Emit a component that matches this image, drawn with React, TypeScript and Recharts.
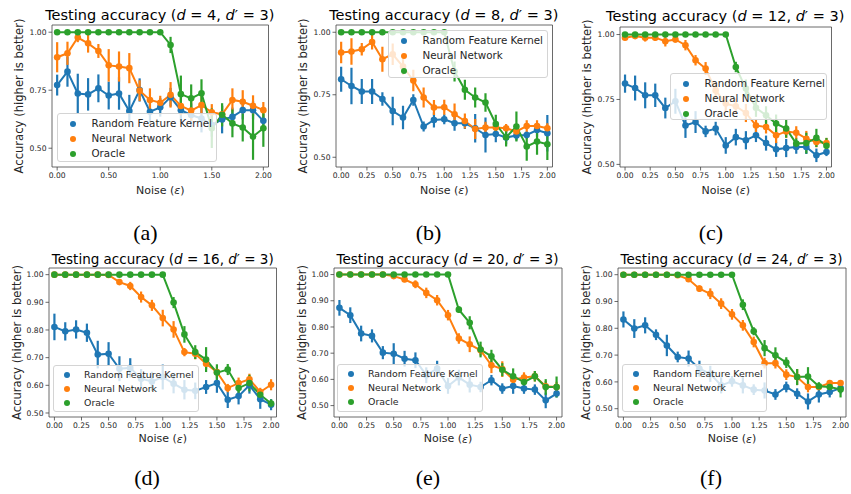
import React from 'react';
import { ComposedChart, Line, XAxis, YAxis, ErrorBar, Legend, Label, ReferenceArea } from 'recharts';

const FONT = "'DejaVu Sans', sans-serif";
const noise = [0, 0.1, 0.2, 0.3, 0.4, 0.5, 0.6, 0.7, 0.8, 0.9, 1.0, 1.1, 1.2, 1.3, 1.4, 1.5, 1.6, 1.7, 1.8, 1.9, 2.0];
const seriesNames = ['Random Feature Kernel', 'Neural Network', 'Oracle'];
const colors = ['#1f77b4', '#ff7f0e', '#2ca02c'];
const xTicksCoarse = [0, 0.5, 1, 1.5, 2];
const xTicksFine = [0, 0.25, 0.5, 0.75, 1, 1.25, 1.5, 1.75, 2];
const yTicksTop = [0.5, 0.75, 1.0];
const yTicksBottom = [0.5, 0.6, 0.7, 0.8, 0.9, 1.0];
const dims = [4, 8, 12, 16, 20, 24];
const captions = ['(a)', '(b)', '(c)', '(d)', '(e)', '(f)'];

// (a) d=4
const rfkA = [0.772, 0.83, 0.736, 0.732, 0.758, 0.727, 0.736, 0.66, 0.751, 0.657, 0.676, 0.72, 0.664, 0.643, 0.628, 0.6, 0.624, 0.635, 0.664, 0.664, 0.618];
const rfkErrA = [0.045, 0.065, 0.085, 0.07, 0.06, 0.06, 0.07, 0.07, 0.05, 0.05, 0.04, 0.04, 0.05, 0.05, 0.06, 0.05, 0.06, 0.04, 0.04, 0.04, 0.03];
const nnA = [0.892, 0.909, 0.977, 0.952, 0.919, 0.857, 0.852, 0.845, 0.748, 0.708, 0.696, 0.73, 0.682, 0.662, 0.686, 0.655, 0.646, 0.708, 0.7, 0.683, 0.664];
const nnErrA = [0.065, 0.05, 0.02, 0.04, 0.03, 0.07, 0.065, 0.065, 0.045, 0.05, 0.03, 0.055, 0.04, 0.045, 0.04, 0.035, 0.035, 0.05, 0.05, 0.045, 0.035];
const orA = [1, 1, 1, 1, 1, 1, 1, 1, 1, 1, 1, 0.945, 0.733, 0.715, 0.737, 0.586, 0.644, 0.607, 0.589, 0.55, 0.586];
const orErrA = [0, 0, 0, 0, 0, 0, 0, 0, 0, 0, 0, 0.035, 0.08, 0.06, 0.06, 0.085, 0.05, 0.06, 0.06, 0.1, 0.08];

// (b) d=8
const rfkB = [0.812, 0.785, 0.763, 0.763, 0.733, 0.685, 0.659, 0.729, 0.623, 0.649, 0.652, 0.636, 0.636, 0.616, 0.589, 0.593, 0.579, 0.587, 0.589, 0.609, 0.596];
const rfkErrB = [0.05, 0.073, 0.05, 0.05, 0.027, 0.057, 0.047, 0.023, 0.02, 0.03, 0.02, 0.03, 0.023, 0.057, 0.07, 0.033, 0.027, 0.02, 0.015, 0.027, 0.073];
const nnB = [0.919, 0.923, 0.932, 0.961, 0.892, 0.912, 0.863, 0.807, 0.739, 0.699, 0.7, 0.672, 0.645, 0.613, 0.619, 0.619, 0.616, 0.603, 0.625, 0.625, 0.616];
const nnErrB = [0.043, 0.053, 0.025, 0.03, 0.05, 0.043, 0.033, 0.043, 0.04, 0.03, 0.03, 0.043, 0.03, 0.04, 0.023, 0.017, 0.017, 0.015, 0.023, 0.023, 0.02];
const orB = [1, 1, 1, 1, 1, 1, 1, 1, 1, 1, 1, 0.843, 0.77, 0.739, 0.719, 0.633, 0.58, 0.623, 0.543, 0.563, 0.552];
const orErrB = [0, 0, 0, 0, 0, 0, 0, 0, 0, 0, 0, 0.04, 0.04, 0.04, 0.037, 0.037, 0.037, 0.06, 0.057, 0.053, 0.063];

// (c) d=12
const rfkC = [0.811, 0.794, 0.766, 0.766, 0.717, 0.743, 0.65, 0.663, 0.627, 0.638, 0.573, 0.605, 0.593, 0.612, 0.582, 0.558, 0.563, 0.567, 0.567, 0.535, 0.548];
const rfkErrC = [0.035, 0.048, 0.05, 0.045, 0.04, 0.048, 0.048, 0.042, 0.022, 0.026, 0.032, 0.032, 0.035, 0.026, 0.029, 0.029, 0.035, 0.026, 0.027, 0.026, 0.016];
const nnC = [0.988, 0.994, 0.988, 0.988, 0.974, 0.981, 0.959, 0.901, 0.869, 0.785, 0.734, 0.724, 0.698, 0.65, 0.644, 0.612, 0.627, 0.622, 0.599, 0.586, 0.582];
const nnErrC = [0.01, 0.008, 0.015, 0.012, 0.02, 0.012, 0.02, 0.02, 0.025, 0.03, 0.03, 0.03, 0.035, 0.025, 0.025, 0.03, 0.025, 0.025, 0.03, 0.02, 0.02];
const orC = [1, 1, 1, 1, 1, 1, 1, 1, 1, 1, 1, 0.875, 0.792, 0.718, 0.689, 0.657, 0.638, 0.58, 0.582, 0.602, 0.572];
const orErrC = [0, 0, 0, 0, 0, 0, 0, 0, 0, 0, 0, 0.02, 0.035, 0.035, 0.035, 0.035, 0.035, 0.02, 0.04, 0.035, 0.03];

// (d) d=16
const rfkD = [0.811, 0.795, 0.802, 0.79, 0.711, 0.714, 0.66, 0.663, 0.624, 0.614, 0.63, 0.606, 0.584, 0.58, 0.594, 0.608, 0.548, 0.561, 0.6, 0.55, 0.53];
const rfkErrD = [0.048, 0.033, 0.033, 0.033, 0.05, 0.042, 0.045, 0.035, 0.035, 0.035, 0.045, 0.035, 0.035, 0.03, 0.025, 0.035, 0.03, 0.03, 0.03, 0.035, 0.02];
const nnD = [1, 1, 1, 1, 1, 0.999, 0.973, 0.959, 0.919, 0.889, 0.843, 0.802, 0.72, 0.714, 0.678, 0.648, 0.59, 0.608, 0.622, 0.576, 0.602];
const nnErrD = [0, 0, 0, 0, 0, 0.003, 0.01, 0.015, 0.02, 0.02, 0.03, 0.03, 0.015, 0.02, 0.02, 0.02, 0.015, 0.02, 0.02, 0.015, 0.02];
const orD = [1, 1, 1, 1, 1, 1, 1, 1, 1, 1, 1, 0.899, 0.784, 0.72, 0.693, 0.646, 0.657, 0.59, 0.608, 0.566, 0.534];
const orErrD = [0, 0, 0, 0, 0, 0, 0, 0, 0, 0, 0, 0.02, 0.03, 0.025, 0.045, 0.03, 0.02, 0.02, 0.03, 0.02, 0.015];

// (e) d=20
const rfkE = [0.873, 0.845, 0.775, 0.766, 0.702, 0.698, 0.679, 0.673, 0.616, 0.641, 0.575, 0.607, 0.58, 0.571, 0.597, 0.565, 0.575, 0.565, 0.561, 0.52, 0.546];
const rfkErrE = [0.03, 0.03, 0.03, 0.025, 0.025, 0.04, 0.03, 0.03, 0.03, 0.03, 0.03, 0.03, 0.03, 0.02, 0.02, 0.02, 0.03, 0.02, 0.02, 0.03, 0.015];
const nnE = [1, 1, 1, 1, 1, 0.994, 0.981, 0.963, 0.93, 0.902, 0.845, 0.756, 0.734, 0.711, 0.654, 0.639, 0.599, 0.607, 0.612, 0.574, 0.571];
const nnErrE = [0, 0, 0, 0, 0, 0.005, 0.01, 0.015, 0.02, 0.02, 0.02, 0.02, 0.03, 0.02, 0.03, 0.03, 0.02, 0.02, 0.02, 0.02, 0.02];
const orE = [1, 1, 1, 1, 1, 1, 1, 1, 1, 1, 1, 0.866, 0.816, 0.714, 0.688, 0.637, 0.612, 0.59, 0.612, 0.571, 0.571];
const orErrE = [0, 0, 0, 0, 0, 0, 0, 0, 0, 0, 0, 0.012, 0.025, 0.03, 0.025, 0.025, 0.03, 0.025, 0.02, 0.03, 0.04];

// (f) d=24
const rfkF = [0.833, 0.799, 0.811, 0.776, 0.736, 0.693, 0.687, 0.649, 0.63, 0.587, 0.602, 0.587, 0.571, 0.568, 0.553, 0.581, 0.556, 0.527, 0.553, 0.562, 0.577];
const rfkErrF = [0.03, 0.035, 0.03, 0.02, 0.04, 0.02, 0.03, 0.03, 0.03, 0.03, 0.02, 0.03, 0.02, 0.03, 0.02, 0.02, 0.02, 0.03, 0.03, 0.02, 0.02];
const nnF = [1, 1, 1, 1, 1, 0.998, 0.983, 0.948, 0.929, 0.892, 0.852, 0.811, 0.749, 0.67, 0.67, 0.627, 0.618, 0.581, 0.581, 0.596, 0.596];
const nnErrF = [0, 0, 0, 0, 0, 0.003, 0.01, 0.012, 0.02, 0.02, 0.02, 0.02, 0.02, 0.02, 0.02, 0.02, 0.03, 0.02, 0.01, 0.01, 0.01];
const orF = [1, 1, 1, 1, 1, 1, 1, 1, 1, 1, 1, 0.888, 0.789, 0.726, 0.699, 0.672, 0.618, 0.62, 0.584, 0.581, 0.572];
const orErrF = [0, 0, 0, 0, 0, 0, 0, 0, 0, 0, 0, 0.02, 0.015, 0.03, 0.03, 0.02, 0.03, 0.035, 0.015, 0.02, 0.03];

const seriesSets = [
  [rfkA, rfkErrA, nnA, nnErrA, orA, orErrA],
  [rfkB, rfkErrB, nnB, nnErrB, orB, orErrB],
  [rfkC, rfkErrC, nnC, nnErrC, orC, orErrC],
  [rfkD, rfkErrD, nnD, nnErrD, orD, orErrD],
  [rfkE, rfkErrE, nnE, nnErrE, orE, orErrE],
  [rfkF, rfkErrF, nnF, nnErrF, orF, orErrF],
];

// layout (page pixels)
const layouts = [
  { left: 51.5, top: 25, w: 216.5, h: 142, yDom: [0.419, 1.031], xTicks: xTicksCoarse, yTicks: yTicksTop, leg: [57, 113, 160, 49], top_: true, capX: 145.5, capY: 232.5 },
  { left: 335.5, top: 25, w: 216.5, h: 142, yDom: [0.461, 1.029], xTicks: xTicksFine, yTicks: yTicksTop, leg: [388, 30, 160, 48], top_: true, capX: 428.5, capY: 232.5 },
  { left: 619.5, top: 26.7, w: 211.5, h: 140, yDom: [0.49, 1.029], xTicks: xTicksFine, yTicks: yTicksTop, leg: [670, 73, 157, 47], top_: true, capX: 711, capY: 232.5 },
  { left: 49, top: 267.7, w: 227.5, h: 149, yDom: [0.4855, 1.024], xTicks: xTicksFine, yTicks: yTicksBottom, leg: [53, 365, 146, 47], top_: false, capX: 147, capY: 478 },
  { left: 333.5, top: 267.7, w: 228, h: 149, yDom: [0.4565, 1.025], xTicks: xTicksFine, yTicks: yTicksBottom, leg: [337, 364, 146, 48], top_: false, capX: 428, capY: 478 },
  { left: 617.5, top: 267.7, w: 228, h: 149, yDom: [0.469, 1.025], xTicks: xTicksFine, yTicks: yTicksBottom, leg: [622, 364, 145, 48], top_: false, capX: 711, capY: 478 },
];

const keys = ['rfk', 'nn', 'or'];
const AXW = 45;
const PADT = 22;
const AXH = 30;

function LegendBox({ payload, topRow }: any) {
  const fs = topRow ? 10.3 : 9.4;
  const rowH = topRow ? 15 : 14;
  const first = topRow ? 9.7 : 9;
  const mx = topRow ? 15 : 13;
  const tx = topRow ? 33.5 : 30;
  const items = [...(payload || [])].sort((a: any, b: any) => seriesNames.indexOf(a.value) - seriesNames.indexOf(b.value));
  return (
    <div style={{ boxSizing: 'border-box', width: '100%', height: '100%', position: 'relative', background: 'rgba(255,255,255,0.8)', border: '1px solid #d4d4d4', borderRadius: 3, fontFamily: FONT, fontSize: fs, color: '#262626' }}>
      {items.map((e: any, i: number) => (
        <div key={i} style={{ position: 'absolute', left: 0, top: first + i * rowH - rowH / 2, height: rowH, width: '100%' }}>
          <span style={{ position: 'absolute', left: mx - 3, top: rowH / 2 - 3, width: 6, height: 6, borderRadius: '50%', background: e.color }} />
          <span style={{ position: 'absolute', left: tx, top: 0, lineHeight: rowH + 'px', whiteSpace: 'nowrap' }}>{e.value}</span>
        </div>
      ))}
    </div>
  );
}

function Panel({ idx }: { idx: number }) {
  const L = layouts[idx];
  const s = seriesSets[idx];
  const data = noise.map((x, i) => ({
    x,
    rfk: s[0][i], rfkErr: s[1][i],
    nn: s[2][i], nnErr: s[3][i],
    or: s[4][i], orErr: s[5][i],
  }));
  const cl = L.left - AXW;
  const ct = L.top - PADT;
  const W = L.w + AXW + 6;
  const H = L.h + PADT + AXH;
  const titleFs = L.top_ ? 14.5 : 13.5;
  const titleCy = L.top_ ? L.top - 9.5 : L.top - 8.2;
  const xLabY = PADT + L.h + (L.top_ ? 23 : 21.5);
  const yLabX = AXW - (L.top_ ? 33.5 : 32.5);
  const tickStyle = { fontSize: 7.6, fill: '#262626', fontFamily: FONT };
  return (
    <>
      <div style={{ position: 'absolute', left: L.left + L.w / 2 - 160, width: 320, top: titleCy - titleFs * 0.62, textAlign: 'center', fontFamily: FONT, fontSize: titleFs, lineHeight: `${titleFs * 1.2}px`, whiteSpace: 'nowrap', color: '#000' }}>
        Testing accuracy (<i>d</i> = {dims[idx]}, <i>d</i>′ = 3)
      </div>
      <div style={{ position: 'absolute', left: L.capX - 30, width: 60, top: L.capY - 14, textAlign: 'center', fontFamily: "'Liberation Serif', 'DejaVu Serif', serif", fontSize: 22, lineHeight: '28px', color: '#000' }}>
        {captions[idx]}
      </div>
      <div style={{ position: 'absolute', left: cl, top: ct }}>
        <ComposedChart width={W} height={H} data={data} margin={{ top: PADT, right: 6, bottom: 0, left: 0 }}>
          <XAxis type="number" dataKey="x" domain={[-0.05, 2.05]} allowDataOverflow ticks={L.xTicks} interval={0}
            tickFormatter={(v: number) => v.toFixed(2)} tick={tickStyle} tickSize={3.5} tickMargin={2}
            axisLine={false} tickLine={{ stroke: '#444', strokeWidth: 0.8 }} height={AXH}>
            <Label content={() => (
              <text x={AXW + L.w / 2} y={xLabY} textAnchor="middle" dominantBaseline="central" fontFamily={FONT} fontSize={11} fill="#262626">
                Noise (<tspan fontStyle="italic">ε</tspan>)
              </text>
            )} />
          </XAxis>
          <YAxis type="number" domain={L.yDom} allowDataOverflow ticks={L.yTicks} interval={0}
            tickFormatter={(v: number) => v.toFixed(2)} tick={tickStyle} tickSize={3.5} tickMargin={2}
            axisLine={false} tickLine={{ stroke: '#444', strokeWidth: 0.8 }} width={AXW}>
            <Label content={() => (
              <text x={yLabX} y={PADT + L.h / 2} transform={`rotate(-90 ${yLabX} ${PADT + L.h / 2})`} textAnchor="middle" dominantBaseline="central" fontFamily={FONT} fontSize={11.6} fill="#262626">
                Accuracy (higher is better)
              </text>
            )} />
          </YAxis>
          {keys.map((k, j) => (
            <Line key={k} type="linear" dataKey={k} name={seriesNames[j]} stroke={colors[j]} strokeWidth={2}
              dot={{ r: 3.3, fill: colors[j], stroke: colors[j], strokeWidth: 0 }} activeDot={false} isAnimationActive={false}>
              <ErrorBar dataKey={k + 'Err'} width={0} stroke={colors[j]} strokeWidth={2.2} direction="y" isAnimationActive={false} />
            </Line>
          ))}
          <ReferenceArea x1={-0.05} x2={2.05} y1={L.yDom[0]} y2={L.yDom[1]} fill="none" fillOpacity={0} stroke="#444" strokeWidth={0.8} ifOverflow="visible" />
          <Legend layout="vertical" align="center" verticalAlign="middle" itemSorter={null as any}
            wrapperStyle={{ left: L.leg[0] - cl, top: L.leg[1] - ct, width: L.leg[2], height: L.leg[3], right: 'auto', bottom: 'auto' }}
            content={(props: any) => <LegendBox payload={props.payload} topRow={L.top_} />} />
        </ComposedChart>
      </div>
    </>
  );
}

export default function App() {
  return (
    <div style={{ position: 'absolute', left: 0, top: 0, width: 851, height: 494, background: '#fff', overflow: 'hidden' }}>
      {layouts.map((_, i) => <Panel key={i} idx={i} />)}
    </div>
  );
}
